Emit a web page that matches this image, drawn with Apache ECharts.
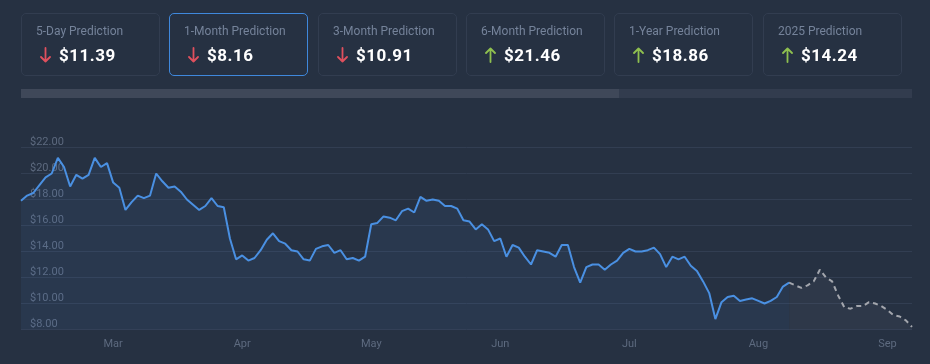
<!DOCTYPE html>
<html>
<head>
<meta charset="utf-8">
<script src="https://cdn.jsdelivr.net/npm/echarts@6/dist/echarts.min.js"></script>
<style>
  html, body { margin:0; padding:0; background:#263142; width:930px; height:364px; overflow:hidden; font-family: Roboto, "Noto Sans", sans-serif; }
  #chart { position:absolute; left:0; top:0; width:930px; height:364px; }
  .card { position:absolute; top:13px; width:137px; height:61px; border:1px solid #323d50; border-radius:5px; box-sizing:content-box; }
  .card.sel { border:1px solid #3f88dc !important; }
  .card .t { position:absolute; left:14px; top:10px; font-size:12px; color:#75839a; white-space:nowrap; }
  .card .v { position:absolute; left:18px; top:32px; height:18px; display:flex; align-items:center; white-space:nowrap; }
  .card .v svg { margin-right:8px; }
  .card .v span { font-size:17px; font-weight:700; color:#ffffff; letter-spacing:0.5px; }
  .bar { position:absolute; left:21px; top:89px; width:891px; height:9px; background:#323c4e; }
  .bar .fill { position:absolute; left:0; top:0; height:9px; width:598px; background:#3f4859; }
</style>
</head>
<body>
<div id="chart"></div>
<div id="cards"></div>
<div class="bar"><div class="fill"></div></div>
<script>
// ---- Data ----
const cardTitles = ['5-Day Prediction', '1-Month Prediction', '3-Month Prediction', '6-Month Prediction', '1-Year Prediction', '2025 Prediction'];
const cardValues = ['$11.39', '$8.16', '$10.91', '$21.46', '$18.86', '$14.24'];
const cardDirections = ['down', 'down', 'down', 'up', 'up', 'up'];
const selectedCard = 1;

const monthLabels = ['Mar', 'Apr', 'May', 'Jun', 'Jul', 'Aug', 'Sep'];
const monthStartIndex = [15, 36, 57, 78, 99, 120, 141];

const yTickValues = [8, 10, 12, 14, 16, 18, 20, 22];

const actualPrices = [
  17.9, 18.3, 18.5, 19.1, 19.7, 20.0, 21.2, 20.5, 19.0, 19.9,
  19.6, 19.9, 21.2, 20.5, 20.8, 19.3, 18.9, 17.2, 17.8, 18.3,
  18.1, 18.3, 20.0, 19.4, 18.9, 19.0, 18.6, 18.0, 17.6, 17.2,
  17.5, 18.1, 17.5, 17.4, 15.0, 13.4, 13.7, 13.3, 13.5, 14.1,
  14.9, 15.4, 14.8, 14.6, 14.1, 14.0, 13.4, 13.3, 14.2, 14.4,
  14.5, 13.9, 14.1, 13.4, 13.5, 13.3, 13.6, 16.1, 16.2, 16.7,
  16.6, 16.4, 17.1, 17.3, 17.0, 18.2, 17.9, 18.0, 17.9, 17.5,
  17.5, 17.3, 16.4, 16.3, 15.7, 16.1, 15.7, 14.8, 15.0, 13.6,
  14.5, 14.3, 13.6, 13.0, 14.1, 14.0, 13.9, 13.6, 14.5, 14.5,
  12.8, 11.6, 12.8, 13.0, 13.0, 12.6, 13.0, 13.3, 13.9, 14.2,
  14.0, 14.0, 14.1, 14.3, 13.8, 12.8, 13.6, 13.4, 13.6, 12.9,
  12.5, 11.7, 10.8, 8.8, 10.1, 10.5, 10.6, 10.2, 10.3, 10.4,
  10.2, 10.0, 10.2, 10.5, 11.3, 11.6
];
const forecastPrices = [
  11.6, 11.4, 11.2, 11.4, 11.7, 12.6, 12.0, 11.7, 10.6, 9.7,
  9.6, 9.8, 9.8, 10.1, 10.0, 9.8, 9.5, 9.1, 9.0, 8.7, 8.2
];

// ---- Cards ----
const cardsEl = document.getElementById('cards');
const arrowDown = '<svg width="11" height="16" viewBox="0 0 11 16"><path d="M5.5 1 V14.5 M1 10 L5.5 14.5 L10 10" stroke="#e0505e" stroke-width="1.8" fill="none" stroke-linecap="round" stroke-linejoin="round"/></svg>';
const arrowUp = '<svg width="11" height="16" viewBox="0 0 11 16"><path d="M5.5 15 V1.5 M1 6 L5.5 1.5 L10 6" stroke="#8fc04f" stroke-width="1.8" fill="none" stroke-linecap="round" stroke-linejoin="round"/></svg>';
cardTitles.forEach((t, i) => {
  const d = document.createElement('div');
  d.className = 'card' + (i === selectedCard ? ' sel' : '');
  d.style.left = Math.round(21 + i * 148.3) + 'px';
  d.innerHTML = '<div class="t">' + t + '</div><div class="v">' +
    (cardDirections[i] === 'down' ? arrowDown : arrowUp) + '<span>' + cardValues[i] + '</span></div>';
  cardsEl.appendChild(d);
});

// ---- Chart ----
const chart = echarts.init(document.getElementById('chart'), null, { renderer: 'canvas' });
const forecastStart = actualPrices.length - 1;
const actualData = actualPrices.map((v, i) => [i, v]);
const forecastData = forecastPrices.map((v, i) => [forecastStart + i, v]);
const lastIndex = forecastStart + forecastPrices.length - 1;

chart.setOption({
  backgroundColor: 'transparent',
  animation: false,
  grid: { left: 21, right: 18, top: 147.5, bottom: 34.5 },
  xAxis: {
    type: 'value',
    min: 0,
    max: lastIndex,
    axisLine: { show: false },
    axisTick: { show: false },
    splitLine: { show: false },
    axisLabel: {
      customValues: monthStartIndex,
      formatter: v => monthLabels[monthStartIndex.indexOf(v)] || '',
      color: '#5d6a7f',
      fontSize: 11,
      fontFamily: 'Roboto',
      margin: 9
    }
  },
  yAxis: {
    type: 'value',
    min: yTickValues[0],
    max: yTickValues[yTickValues.length - 1],
    interval: 2,
    axisLine: { show: false },
    axisTick: { show: false },
    splitLine: { show: true, lineStyle: { color: '#323e52', width: 1 } },
    axisLabel: {
      inside: true,
      margin: 9,
      verticalAlign: 'bottom',
      color: '#5d6a7f',
      fontSize: 11,
      fontFamily: 'Roboto',
      formatter: v => '$' + v.toFixed(2)
    }
  },
  series: [
    {
      type: 'line',
      data: actualData,
      showSymbol: false,
      symbol: 'none',
      lineStyle: { color: '#4a90e2', width: 2 },
      areaStyle: { color: 'rgba(74,144,226,0.11)', origin: 'start' },
      z: 3
    },
    {
      type: 'line',
      data: forecastData,
      showSymbol: false,
      symbol: 'none',
      lineStyle: { color: '#a3a6ad', width: 2, type: [5, 4] },
      areaStyle: { color: 'rgba(160,160,165,0.1)', origin: 'start' },
      z: 2
    }
  ]
});
</script>
</body>
</html>
